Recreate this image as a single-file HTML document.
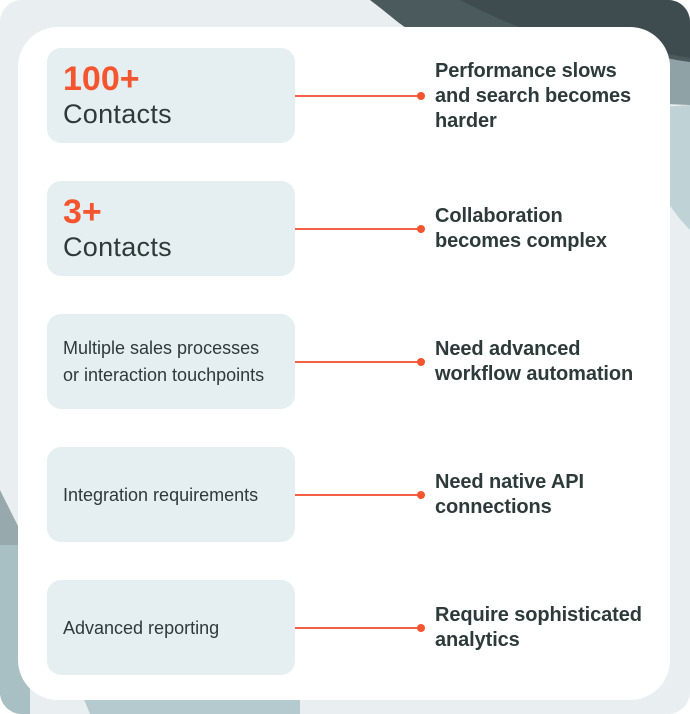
<!DOCTYPE html>
<html><head><meta charset="utf-8"><style>
html,body{margin:0;padding:0;background:#fff;}
.wrap{position:relative;width:690px;height:714px;overflow:hidden;border-radius:22px;background:#e9eff1;font-family:"Liberation Sans",sans-serif;}
svg.bg{position:absolute;left:0;top:0;}
.card{position:absolute;left:18px;top:27px;width:652px;height:673px;background:#fff;border-radius:40px;}
.box{position:absolute;left:47px;width:248px;height:95px;background:#e5eef1;border-radius:14px;}
.num{position:absolute;left:63px;color:#f4552f;font-size:34px;font-weight:bold;letter-spacing:0px;}
.ct{position:absolute;left:63px;color:#2e3a3a;font-size:27px;letter-spacing:0.3px;}
.sm{position:absolute;left:63px;color:#2e3a3a;font-size:18px;line-height:27px;}
.line{position:absolute;left:295px;width:124px;height:1.5px;background:#f26046;}
.dot{position:absolute;left:417px;width:8px;height:8px;border-radius:50%;background:#f4552f;}
.rt{position:absolute;left:435px;color:#2e3a3a;font-size:20px;font-weight:bold;line-height:25px;letter-spacing:-0.1px;}
</style></head><body>
<div class="wrap">
<svg class="bg" width="690" height="714" viewBox="0 0 690 714">
<path d="M690 230 C660 200 640 150 620 110 L690 105 Z" fill="#bfd3d7"/>
<path d="M570 100 L690 105 L690 60 L600 55 Z" fill="#8fa2a5"/>
<path d="M370 0 C390 15 400 25 410 30 L590 30 C620 45 640 55 690 62 L690 0 Z" fill="#4b5a5c"/>
<path d="M460 0 C480 10 500 20 520 27 L560 27 C600 38 640 50 690 58 L690 0 Z" fill="#3f4c4f"/>
<path d="M0 490 C10 510 20 530 30 550 L30 714 L0 714 Z" fill="#97a9ac"/>
<path d="M0 545 L30 545 L30 714 L0 714 Z" fill="#a8bfc3"/>
<path d="M80 690 L300 690 L300 714 L90 714 Z" fill="#b5cace"/>
</svg>
<div class="card"></div>

<div class="box" style="top:48px"></div>
<div class="num" style="top:60px">100+</div>
<div class="ct" style="top:99px">Contacts</div>
<div class="line" style="top:95px"></div><div class="dot" style="top:92px"></div>
<div class="rt" style="top:59px">Performance slows<br>and search becomes<br>harder</div>

<div class="box" style="top:181px"></div>
<div class="num" style="top:193px">3+</div>
<div class="ct" style="top:232px">Contacts</div>
<div class="line" style="top:228px"></div><div class="dot" style="top:225px"></div>
<div class="rt" style="top:204px">Collaboration<br>becomes complex</div>

<div class="box" style="top:314px"></div>
<div class="sm" style="top:335px">Multiple sales processes<br>or interaction touchpoints</div>
<div class="line" style="top:361px"></div><div class="dot" style="top:358px"></div>
<div class="rt" style="top:337px">Need advanced<br>workflow automation</div>

<div class="box" style="top:447px"></div>
<div class="sm" style="top:482px">Integration requirements</div>
<div class="line" style="top:494px"></div><div class="dot" style="top:491px"></div>
<div class="rt" style="top:470px">Need native API<br>connections</div>

<div class="box" style="top:580px"></div>
<div class="sm" style="top:615px">Advanced reporting</div>
<div class="line" style="top:627px"></div><div class="dot" style="top:624px"></div>
<div class="rt" style="top:603px">Require sophisticated<br>analytics</div>
</div>
</body></html>
